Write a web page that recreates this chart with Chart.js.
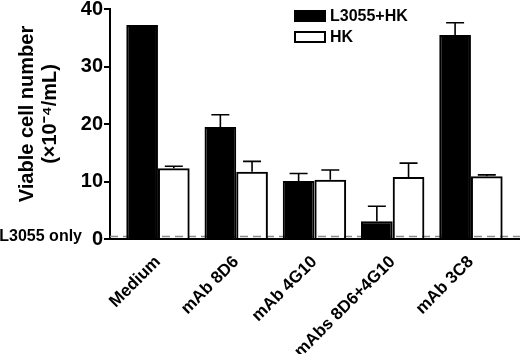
<!DOCTYPE html>
<html>
<head>
<meta charset="utf-8">
<script src="https://cdn.jsdelivr.net/npm/chart.js@4/dist/chart.umd.min.js"></script>
<style>
  body { margin: 0; background: #fff; }
</style>
</head>
<body>
<canvas id="cells" width="520" height="354"></canvas>
<script>
const categories = ['Medium', 'mAb 8D6', 'mAb 4G10', 'mAbs 8D6+4G10', 'mAb 3C8'];
const l3055hk = [37.2, 19.5, 10.1, 3.1, 35.5];
const l3055hkErr = [0, 2.1, 1.3, 2.6, 2.1];
const hk = [12.3, 11.7, 10.3, 10.8, 10.9];
const hkErr = [0.35, 1.8, 1.7, 2.4, 0.25];
const l3055only = 0.45;
const yTicks = [0, 10, 20, 30, 40];
const yTitle = ['Viable cell number', '(×10⁻⁴/mL)'];

const xMin = -0.613, xMax = 4.627;
const FONT = "'Liberation Sans', Arial, Helvetica, sans-serif";
Chart.defaults.font.family = FONT;
Chart.defaults.color = '#000';

const errorBars = {
  id: 'errorBars',
  afterDatasetsDraw(chart) {
    const { ctx, scales: { y } } = chart;
    ctx.save();
    ctx.strokeStyle = '#000';
    ctx.lineWidth = 1.6;
    chart.data.datasets.forEach((ds, di) => {
      if (!ds.errors) return;
      chart.getDatasetMeta(di).data.forEach((bar, i) => {
        const e = ds.errors[i];
        if (!e) return;
        const top = y.getPixelForValue(ds.data[i].y + e);
        ctx.beginPath();
        ctx.moveTo(bar.x, bar.y);
        ctx.lineTo(bar.x, top);
        ctx.moveTo(bar.x - 9, top);
        ctx.lineTo(bar.x + 9, top);
        ctx.stroke();
      });
    });
    ctx.restore();
  }
};

const extras = {
  id: 'extras',
  afterDraw(chart) {
    const { ctx, scales: { y } } = chart;
    ctx.save();
    ctx.fillStyle = '#000';
    // y axis title, two lines
    ctx.save();
    ctx.font = 'bold 20px ' + FONT;
    ctx.textAlign = 'center';
    ctx.textBaseline = 'alphabetic';
    ctx.translate(0, 114);
    ctx.rotate(-Math.PI / 2);
    ctx.fillText(yTitle[0], 0, 33);
    ctx.fillText(yTitle[1], 0, 56);
    ctx.restore();

    ctx.font = 'bold 16px ' + FONT;
    ctx.textAlign = 'right';
    ctx.textBaseline = 'middle';
    ctx.fillText('L3055 only', 82, y.getPixelForValue(l3055only));
    // legend
    ctx.textAlign = 'left';
    const rows = chart.data.datasets.filter(d => d.type !== 'line');
    rows.forEach((ds, i) => {
      const cy = 16 + i * 21;
      ctx.fillStyle = ds.backgroundColor === 'transparent' ? '#fff' : ds.backgroundColor;
      ctx.fillRect(295, cy - 5, 30, 10);
      ctx.lineWidth = 2;
      ctx.strokeStyle = '#000';
      ctx.strokeRect(295, cy - 5, 30, 10);
      ctx.fillStyle = '#000';
      ctx.fillText(ds.label, 330, cy + 1);
    });
    ctx.restore();
  }
};

new Chart(document.getElementById('cells').getContext('2d'), {
  type: 'bar',
  data: {
    datasets: [
      {
        label: 'L3055+HK',
        data: l3055hk.map((v, i) => ({ x: i, y: v })),
        errors: l3055hkErr,
        backgroundColor: '#000',
        borderColor: '#000',
        borderWidth: 2,
        categoryPercentage: 0.81,
        barPercentage: 1,
        order: 1
      },
      {
        label: 'HK',
        data: hk.map((v, i) => ({ x: i, y: v })),
        errors: hkErr,
        backgroundColor: 'transparent',
        borderColor: '#000',
        borderWidth: 2,
        categoryPercentage: 0.81,
        barPercentage: 1,
        order: 2
      },
      {
        type: 'line',
        label: 'L3055 only',
        data: [{ x: xMin, y: l3055only }, { x: xMax, y: l3055only }],
        borderColor: '#8a8a8a',
        borderWidth: 1.5,
        borderDash: [8, 5],
        pointRadius: 0,
        order: 3
      }
    ]
  },
  options: {
    responsive: false,
    animation: false,
    layout: { padding: { top: 8, right: 0, left: 0, bottom: 0 } },
    plugins: {
      legend: { display: false },
      tooltip: { enabled: false }
    },
    scales: {
      x: {
        type: 'linear',
        min: xMin,
        max: xMax,
        offset: false,
        afterBuildTicks: s => { s.ticks = categories.map((c, i) => ({ value: i })); },
        afterFit: s => { s.height = 115; },
        grid: { display: false },
        border: { display: true, color: '#000', width: 2 },
        ticks: {
          minRotation: 45,
          maxRotation: 45,
          padding: 5,
          font: { size: 17, weight: 'bold' },
          callback: v => categories[v]
        }
      },
      y: {
        min: 0,
        max: 40,
        afterBuildTicks: s => { s.ticks = yTicks.map(v => ({ value: v })); },
        afterFit: s => { s.width = 110; },
        grid: { drawOnChartArea: false, color: '#000', lineWidth: 2, tickLength: 6 },
        border: { display: true, color: '#000', width: 2 },
        ticks: {
          padding: 1,
          font: { size: 20, weight: 'bold', lineHeight: 0.8 }
        }
      }
    }
  },
  plugins: [errorBars, extras]
});
</script>
</body>
</html>
